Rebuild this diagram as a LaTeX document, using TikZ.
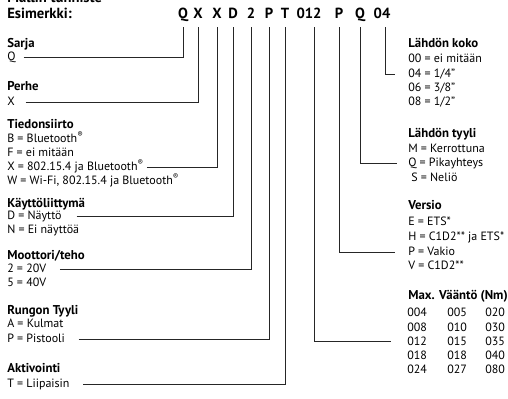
\documentclass[tikz,border=0pt]{standalone}
\usepackage{fontspec}
\setmainfont{PT Sans}
\usepackage{tikz}

\begin{document}
\begin{tikzpicture}[x=0.75pt,y=0.75pt,
  code/.style={anchor=base, font=\fontsize{11}{13}\selectfont\bfseries, inner ysep=6pt, text depth=0pt},
  head/.style={anchor=base west, font=\fontsize{9.6}{10.5}\selectfont\bfseries},
  item/.style={anchor=base west, font=\fontsize{9}{10.5}\selectfont, text height=6pt, text depth=0pt},
  wire/.style={line width=0.6pt, black!85}]
\tikzstyle{every node}+=[inner xsep=0pt, inner ysep=0pt]
\useasboundingbox (0,0) rectangle (508,-399);
\draw (7,-3) node[anchor=base west, font=\fontsize{11}{13}\selectfont\bfseries] (mallin) {Mallin tunniste};
\draw (7,-19) node[anchor=base west, font=\fontsize{11}{13}\selectfont\bfseries] (esim) {Esimerkki:};
\draw (183,-19) node[code] (cQ) {Q};
\draw (198,-19) node[code] (cX) {X};
\draw (217,-19) node[code] (cXb) {X};
\draw (233,-19) node[code] (cD) {D};
\draw (251,-19) node[code] (c2) {2};
\draw (269,-19) node[code] (cP) {P};
\draw (285,-19) node[code] (cT) {T};
\draw (309,-19) node[code] (c012) {012};
\draw (339,-19) node[code] (cPb) {P};
\draw (360,-19) node[code] (cQb) {Q};
\draw (382,-19) node[code] (c04) {04};
\draw (7,-48) node[head] (sarja) {Sarja};
\draw (7,-61) node[item] (sarjaQ) {Q};
\draw (7,-91) node[head] (perhe) {Perhe};
\draw (7,-106) node[item] (perheX) {X};
\draw (7,-129) node[head] (tied) {Tiedonsiirto};
\draw (7,-143) node[item] (tiedB) {B = Bluetooth\textsuperscript{®}};
\draw (7,-157) node[item] (tiedF) {F = ei mitään};
\draw (7,-171) node[item] (tiedX) {X = 802.15.4 ja Bluetooth\textsuperscript{®}};
\draw (7,-185) node[item] (tiedW) {W = Wi-Fi, 802.15.4 ja Bluetooth\textsuperscript{®}};
\draw (7,-208) node[head] (kayt) {Käyttöliittymä};
\draw (7,-220) node[item] (kaytD) {D = Näyttö};
\draw (7,-234) node[item] (kaytN) {N = Ei näyttöä};
\draw (7,-260) node[head] (moot) {Moottori/teho};
\draw (7,-273) node[item] (moot2) {2 = 20V};
\draw (7,-287) node[item] (moot5) {5 = 40V};
\draw (7,-315) node[head] (runko) {Rungon Tyyli};
\draw (7,-328) node[item] (runkoA) {A = Kulmat};
\draw (7,-343) node[item] (runkoP) {P = Pistooli};
\draw (7,-373) node[head] (akt) {Aktivointi};
\draw (7,-388) node[item] (aktT) {T = Liipaisin};
\draw (408,-48) node[head] (koko) {Lähdön koko};
\draw (408,-63) node[item] (koko00) {00 = ei mitään};
\draw (408,-78) node[item] (koko04) {04 = 1/4"};
\draw (408,-92) node[item] (koko06) {06 = 3/8"};
\draw (408,-106) node[item] (koko08) {08 = 1/2"};
\draw (408,-138) node[head] (tyyli) {Lähdön tyyli};
\draw (408,-153) node[item] (tyyliM) {M = Kerrottuna};
\draw (408,-167) node[item] (tyyliQ) {Q = Pikayhteys};
\draw (411,-182) node[item] (tyyliS) {S = Neliö};
\draw (408,-210) node[head] (versio) {Versio};
\draw (408,-226) node[item] (versioE) {E = ETS*};
\draw (408,-241) node[item] (versioH) {H = C1D2** ja ETS*};
\draw (408,-256) node[item] (versioP) {P = Vakio};
\draw (408,-270) node[item] (versioV) {V = C1D2**};
\draw (408,-300) node[head] (maxv) {Max. Vääntö (Nm)};
\foreach \a/\b/\c [count=\i] in {004/005/020,008/010/030,012/015/035,018/018/040,024/027/080} {
  \draw (407,-317-14.25*\i+14.25) node[item] (ta\i) {\a};
  \draw (447,-317-14.25*\i+14.25) node[item] (tb\i) {\b};
  \draw (485,-317-14.25*\i+14.25) node[item] (tc\i) {\c};
}
\draw [wire] ([xshift=6pt]sarjaQ.east) -| (cQ.south);
\draw [wire] ([xshift=8pt]perheX.east) -| (cX.south);
\draw [wire] ([xshift=2pt]tiedX.east) -| (cXb.south);
\draw [wire] ([xshift=11pt]kaytD.east) -| (cD.south);
\draw [wire] ([xshift=10pt]moot2.east) -| (c2.south);
\draw [wire] ([xshift=10pt]runkoP.east) -| (cP.south);
\draw [wire] ([xshift=10pt]aktT.east) -| (cT.south);
\draw [wire] ([xshift=3.75pt]c012.south) |- ([xshift=-12pt]ta3.west);
\draw [wire] (cPb.south) |- ([xshift=-10pt]versioP.west);
\draw [wire] (cQb.south) |- ([xshift=-8pt]tyyliQ.west);
\draw [wire] ([xshift=2.25pt]c04.south) |- ([xshift=-10pt]koko04.west);
\end{tikzpicture}
\end{document}
